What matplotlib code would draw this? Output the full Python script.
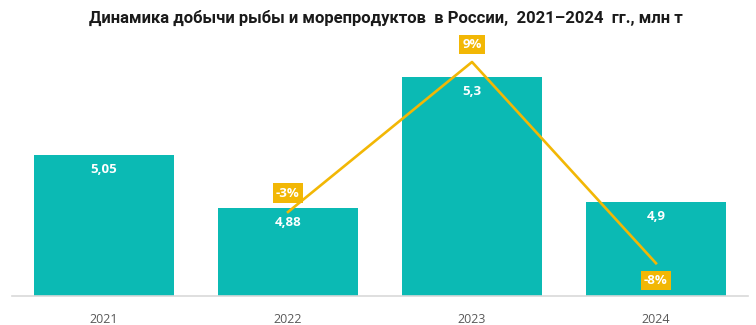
import matplotlib
matplotlib.use("Agg")
import matplotlib.pyplot as plt

# data
years = ["2021", "2022", "2023", "2024"]
catch_mln_t = [5.05, 4.88, 5.3, 4.9]
value_labels = ["5,05", "4,88", "5,3", "4,9"]
growth_years = ["2022", "2023", "2024"]
growth_pct = [-3.4, 8.6, -7.5]
growth_labels = ["-3%", "9%", "-8%"]

TEAL = "#0BBAB4"
GOLD = "#F2B705"

plt.rcParams["font.family"] = ["Open Sans", "DejaVu Sans"]

fig = plt.figure(figsize=(7.56, 3.25), dpi=100)
ax = fig.add_axes([12 / 756, 29 / 325, 736 / 756, 256 / 325])

x = list(range(len(years)))
ax.bar(x, catch_mln_t, width=0.766, color=TEAL, zorder=2)
ax.set_xlim(-0.5, 3.5)
ax.set_ylim(4.598, 5.42)

for xi, v, lab in zip(x, catch_mln_t, value_labels):
    ax.annotate(lab, (xi, v), xytext=(0, -10.5), textcoords="offset points",
                ha="center", va="center", color="white", fontsize=9.5,
                fontweight="bold")

ax.set_xticks(x)
ax.set_xticklabels(years, color="#595959", fontsize=9)
ax.tick_params(axis="x", length=0, pad=12)
ax.set_yticks([])
for side in ["top", "left", "right"]:
    ax.spines[side].set_visible(False)
ax.spines["bottom"].set_color("#d9d9d9")
ax.spines["bottom"].set_linewidth(1.2)

# growth line on a second scale
ax2 = ax.twinx()
ax2.set_ylim(-10.12, 10.36)
gx = [years.index(y) for y in growth_years]
ax2.plot(gx, growth_pct, color=GOLD, linewidth=1.9, zorder=3)
ax2.axis("off")

offsets = [13.5, 12.5, -12.5]
for xi, v, lab, off in zip(gx, growth_pct, growth_labels, offsets):
    ax2.annotate(lab, (xi, v), xytext=(0, off), textcoords="offset points",
                 ha="center", va="center", color="white", fontsize=9.5,
                 fontweight="bold",
                 bbox=dict(boxstyle="square,pad=0.25", fc=GOLD, ec="none"))

fig.text(386 / 756, 1 - 18 / 325,
         "Динамика добычи рыбы и морепродуктов  в России,  2021–2024  гг., млн т",
         ha="center", va="center", fontsize=12, fontweight="semibold",
         family=["Roboto", "DejaVu Sans"], color="#1a1a1a")

fig.savefig("out.png", dpi=100)
